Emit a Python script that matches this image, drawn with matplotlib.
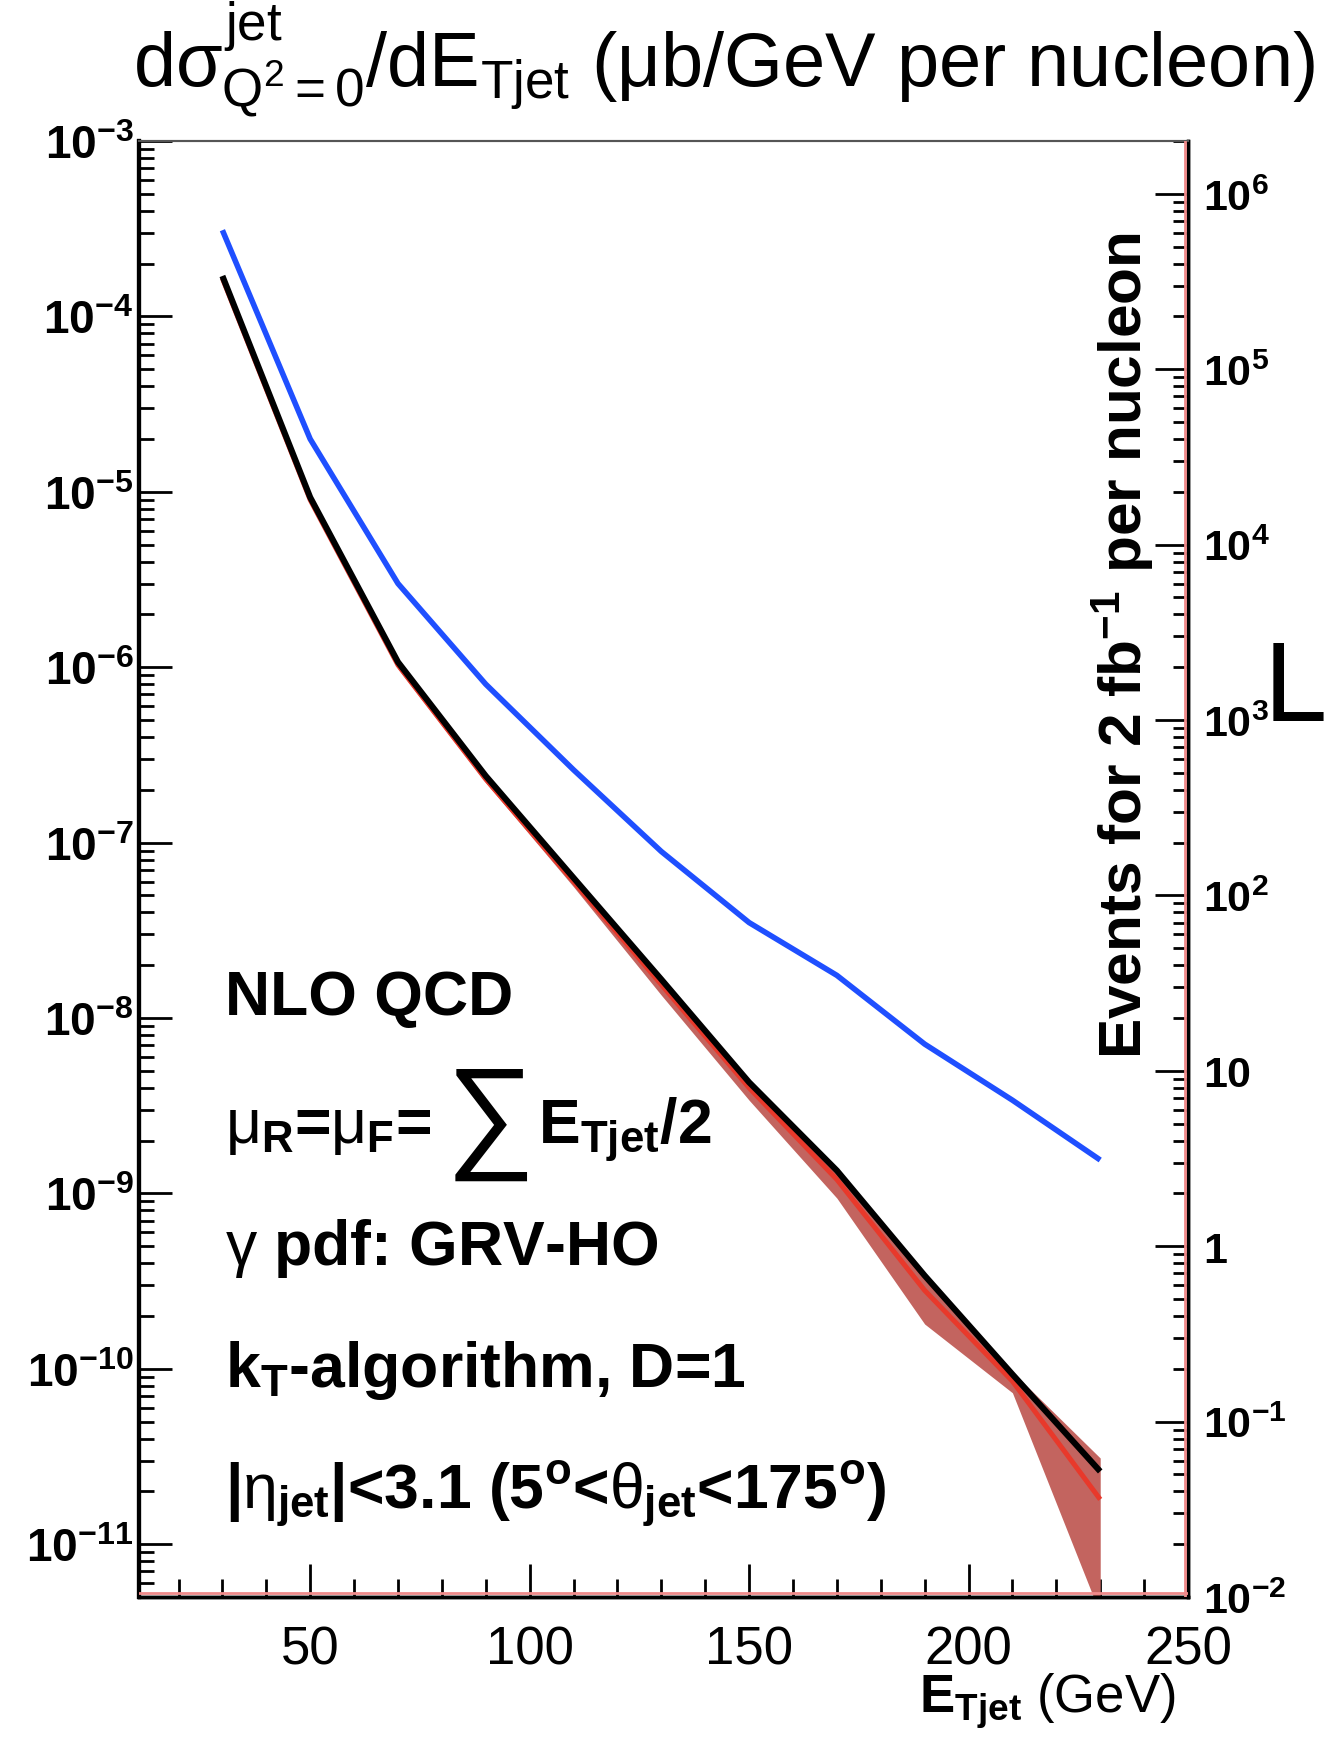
import math
import matplotlib
matplotlib.use("Agg")
import matplotlib.pyplot as plt
from matplotlib.ticker import FixedLocator, MultipleLocator, FuncFormatter, NullFormatter
from matplotlib.lines import Line2D

plt.rcParams['font.family'] = ['Liberation Sans', 'DejaVu Sans']
plt.rcParams['mathtext.fontset'] = 'custom'
plt.rcParams['mathtext.rm'] = 'Liberation Sans'
plt.rcParams['mathtext.it'] = 'Liberation Sans'
plt.rcParams['mathtext.sf'] = 'Liberation Sans'
plt.rcParams['mathtext.bf'] = 'Liberation Sans:bold'

# Jet transverse energy bin centres (GeV)
et_jet = [30, 50, 70, 90, 110, 130, 150, 170, 190, 210, 230]

# dsigma/dE_T (ub/GeV per nucleon)
xsec_blue = [3.1e-4, 2.0e-5, 3.0e-6, 8.0e-7, 2.6e-7, 8.9e-8, 3.5e-8, 1.75e-8, 7.1e-9, 3.4e-9, 1.55e-9]
xsec_black = [1.7e-4, 9.3e-6, 1.07e-6, 2.4e-7, 6.3e-8, 1.66e-8, 4.3e-9, 1.35e-9, 3.4e-10, 9.3e-11, 2.6e-11]
xsec_red = [1.65e-4, 9.0e-6, 1.03e-6, 2.3e-7, 6.0e-8, 1.55e-8, 4.0e-9, 1.2e-9, 2.8e-10, 8.5e-11, 1.8e-11]
band_low = [1.6e-4, 8.6e-6, 0.98e-6, 2.2e-7, 5.6e-8, 1.35e-8, 3.4e-9, 9.4e-10, 1.8e-10, 7.3e-11, 4e-12]
band_high = [1.72e-4, 9.4e-6, 1.08e-6, 2.45e-7, 6.4e-8, 1.7e-8, 4.4e-9, 1.4e-9, 3.5e-10, 9.6e-11, 3.1e-11]

# integrated luminosity 2 fb^-1 expressed in ub^-1
lumi = 2e9

x_range = (11, 250)
y_range = (5e-12, 1e-3)
x_major = [50, 100, 150, 200, 250]
sigma_decades = [-11, -10, -9, -8, -7, -6, -5, -4, -3]
event_decades = [-2, -1, 0, 1, 2, 3, 4, 5, 6]

W, H = 1327, 1740
fig = plt.figure(figsize=(W / 100, H / 100), dpi=100)
L, R, T, B = 139, 1188, 142, 1598
ax = fig.add_axes([L / W, 1 - B / H, (R - L) / W, (B - T) / H])

ax.set_yscale('log')
ax.set_xlim(*x_range)
ax.set_ylim(*y_range)

ax.fill_between(et_jet, band_low, band_high, color='#c3645f', lw=0, zorder=2)
ax.plot(et_jet, xsec_red, color='#e8392b', lw=3.6, zorder=3, solid_capstyle='butt')
ax.plot(et_jet, xsec_black, color='black', lw=4.4, zorder=4, solid_capstyle='butt')
ax.plot(et_jet, xsec_blue, color='#1f4fff', lw=4.0, zorder=4, solid_capstyle='butt')

# x axis
ax.xaxis.set_major_locator(FixedLocator(x_major))
ax.xaxis.set_minor_locator(MultipleLocator(10))
ax.tick_params(axis='x', which='both', direction='in', bottom=True, top=False,
               labelsize=38, pad=20)
ax.tick_params(axis='x', which='major', length=24, width=2)
ax.tick_params(axis='x', which='minor', length=13, width=2)


def sigma_fmt(v, p):
    return r"$\mathbf{10^{%d}}$" % round(math.log10(v))


def minor_positions(decades, lo, hi):
    vals = []
    for d in range(decades[0] - 1, decades[-1] + 1):
        for s in range(2, 10):
            v = s * 10.0 ** d
            if lo <= v <= hi:
                vals.append(v)
    return vals


# left y axis
ax.yaxis.set_major_locator(FixedLocator([10.0 ** d for d in sigma_decades]))
ax.yaxis.set_minor_locator(FixedLocator(minor_positions(sigma_decades, *y_range)))
ax.yaxis.set_minor_formatter(NullFormatter())
ax.yaxis.set_major_formatter(FuncFormatter(sigma_fmt))
ax.tick_params(axis='y', which='both', direction='in', left=True, right=False, labelsize=33, pad=4)
ax.tick_params(axis='y', which='major', length=24, width=2)
ax.tick_params(axis='y', which='minor', length=11, width=2)

# right axis: expected events
ax2 = ax.twinx()
ax2.set_yscale('log')
ev_range = (y_range[0] * lumi, y_range[1] * lumi)
ax2.set_ylim(*ev_range)


def ev_fmt(v, p):
    e = round(math.log10(v))
    if e == 0:
        return r"$\mathbf{1}$"
    if e == 1:
        return r"$\mathbf{10}$"
    return r"$\mathbf{10^{%d}}$" % e


ax2.yaxis.set_major_locator(FixedLocator([10.0 ** d for d in event_decades]))
ax2.yaxis.set_minor_locator(FixedLocator(minor_positions(event_decades, *ev_range)))
ax2.yaxis.set_minor_formatter(NullFormatter())
ax2.yaxis.set_major_formatter(FuncFormatter(ev_fmt))
ax2.tick_params(axis='y', which='both', direction='in', right=True, labelsize=31, pad=11)
ax2.tick_params(axis='y', which='major', length=24, width=2)
ax2.tick_params(axis='y', which='minor', length=11, width=2)

for a in (ax, ax2):
    a.spines['left'].set_linewidth(3)
    a.spines['bottom'].set_linewidth(2.5)
    a.spines['right'].set_linewidth(2.5)
    a.spines['top'].set_linewidth(1.5)
    a.spines['top'].set_color('#555555')

# red frame of the event-count axis
ax2.add_line(Line2D([0, 1], [0.003, 0.003], transform=ax2.transAxes, color='#f08a8a', lw=2, zorder=5))
ax2.add_line(Line2D([0.997, 0.997], [0, 1], transform=ax2.transAxes, color='#f08a8a', lw=2, zorder=5))

ax2.text(0.938, 0.654, r"Events for 2 fb$^{\mathbf{-1}}$ per nucleon", transform=ax2.transAxes,
         rotation=90, ha='center', va='center', fontsize=43.5, fontweight='bold')

# title and axis label
fig.text(133 / W, 1 - 87 / H, r"d$\sigma^{\mathrm{jet}}_{\mathrm{Q^{2}=0}}$/dE$_{\mathrm{Tjet}}$ ($\mu$b/GeV per nucleon)",
         fontsize=54.5, va='baseline', ha='left')
fig.text(1176 / W, 1 - 1713 / H, r"$\mathbf{E}_{\mathbf{Tjet}}$ (GeV)", fontsize=38,
         va='baseline', ha='right')
fig.text(1264 / W, 1 - 721 / H, "L", fontsize=82, va='baseline', ha='left')

# annotation block
tx = 225 / W
fs = 45
fig.text(tx, 1 - 1015 / H, "NLO QCD", fontsize=fs, fontweight='bold', va='baseline')
fig.canvas.draw()
rend = fig.canvas.get_renderer()
y_mu = 1 - 1143 / H
t1 = fig.text(tx, y_mu, r"$\mu_{\mathbf{R}}$=$\mu_{\mathbf{F}}$=", fontsize=fs, fontweight='bold',
              va='baseline')
bb = t1.get_window_extent(rend)
t2 = fig.text(bb.x1 / W + 14 / W, y_mu - 12 / H, "\u2211", fontsize=fs * 2.0, va='baseline')
bb = t2.get_window_extent(rend)
fig.text(bb.x1 / W + 4 / W, y_mu, r"$\mathbf{E}_{\mathbf{Tjet}}\mathbf{/2}$", fontsize=fs, va='baseline')
fig.text(tx, 1 - 1265 / H, r"$\gamma$ pdf: GRV-HO", fontsize=fs, fontweight='bold', va='baseline')
fig.text(tx, 1 - 1387 / H, r"k$_{\mathbf{T}}$-algorithm, D=1", fontsize=fs, fontweight='bold', va='baseline')
fig.text(tx, 1 - 1509 / H,
         r"|$\eta_{\mathbf{jet}}$|<3.1 (5$^{\mathbf{o}}$<$\theta_{\mathbf{jet}}$<175$^{\mathbf{o}}$)",
         fontsize=fs, fontweight='bold', va='baseline')

fig.savefig("out.png", dpi=100)
